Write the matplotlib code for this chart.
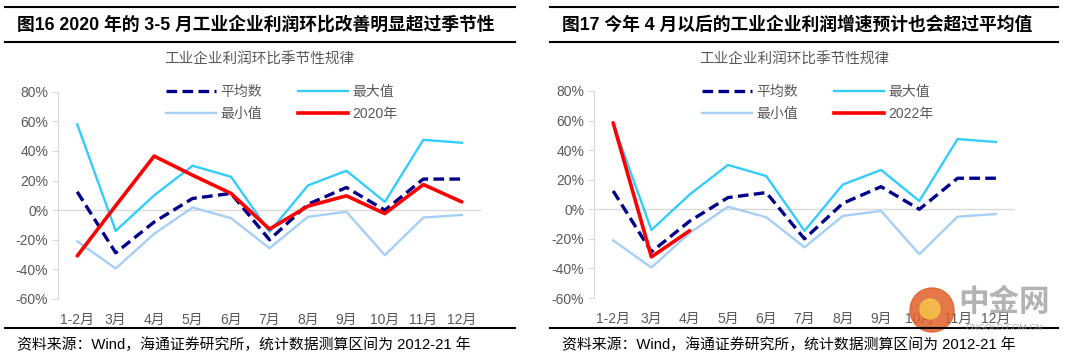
import matplotlib
matplotlib.use("Agg")
import matplotlib.pyplot as plt
from matplotlib.lines import Line2D
from matplotlib.patches import Ellipse

plt.rcParams['font.family'] = ['Liberation Sans', 'Noto Sans CJK SC', 'DejaVu Sans']

months = ['1-2月', '3月', '4月', '5月', '6月', '7月', '8月', '9月', '10月', '11月', '12月']
avg_vals = [12.4, -28.8, -8, 7.9, 11.3, -20, 4, 15.3, 0, 21, 21]
max_vals = [58, -14, 10, 30, 22.5, -14.6, 16.7, 26.6, 5.6, 47.5, 45.5]
min_vals = [-21, -39.4, -16, 1.8, -5.4, -25.7, -4.5, -1.1, -30.4, -5, -3.2]
y2020_vals = [-30.9, 3, 36.5, 23.6, 11.3, -12.8, 2.7, 9.7, -2.3, 17.3, 5.6]
y2022_vals = [58.5, -32.2, -14.5]
yticks = [-60, -40, -20, 0, 20, 40, 60, 80]

titles = ['图16 2020 年的 3-5 月工业企业利润环比改善明显超过季节性',
          '图17 今年 4 月以后的工业企业利润增速预计也会超过平均值']
subtitle = '工业企业利润环比季节性规律'
source = '资料来源：Wind，海通证券研究所，统计数据测算区间为 2012-21 年'

W, H = 1080, 360
fig = plt.figure(figsize=(10.8, 3.6), dpi=100)

C_AVG = '#00008B'
C_MAX = '#33CCFF'
C_MIN = '#A6CFF7'
C_RED = '#FF0000'
GRAY = '#595959'

def fx(px):
    return px / W

def fy(py):
    return 1 - py / H

panels = [
    dict(ax=(58, 481, 91.7, 299), x0=5, x1=515, tx=17, red=y2020_vals, redlabel='2020年', leg=159),
    dict(ax=(594, 1015, 91, 298), x0=550, x1=1058, tx=562, red=y2022_vals, redlabel='2022年', leg=695),
]

for i, p in enumerate(panels):
    l, r, t, b = p['ax']
    ax = fig.add_axes([fx(l), fy(b), fx(r - l), (b - t) / H])
    x = list(range(len(months)))
    ax.plot(x, min_vals, color=C_MIN, lw=1.7, zorder=2)
    ax.plot(x, max_vals, color=C_MAX, lw=1.7, zorder=3)
    ax.plot(x, avg_vals, color=C_AVG, lw=2.4, dashes=(3.2, 1.6), zorder=4)
    ax.plot(list(range(len(p['red']))), p['red'], color=C_RED, lw=2.6, zorder=5,
            solid_capstyle='round')
    ax.axhline(0, color='#D9D9D9', lw=1, zorder=1)
    ax.set_xlim(-0.5, 10.5)
    ax.set_ylim(-60, 80)
    ax.set_yticks(yticks)
    ax.set_yticklabels([f'{v}%' for v in yticks])
    ax.set_xticks(x)
    ax.set_xticklabels(months)
    for s in ['top', 'right', 'bottom']:
        ax.spines[s].set_visible(False)
    ax.spines['left'].set_color('#D9D9D9')
    ax.tick_params(axis='y', colors='#D9D9D9', labelcolor=GRAY, labelsize=10, length=4, pad=3)
    ax.tick_params(axis='x', length=0, labelcolor=GRAY, labelsize=10, pad=10)
    ax.patch.set_alpha(0)

    # legend
    handles = [Line2D([], [], color=C_AVG, lw=2.4, dashes=(3.2, 1.6)),
               Line2D([], [], color=C_MIN, lw=1.7),
               Line2D([], [], color=C_MAX, lw=1.7),
               Line2D([], [], color=C_RED, lw=2.6)]
    labels = ['平均数', '最小值', '最大值', p['redlabel']]
    leg = fig.legend(handles, labels, ncol=2, loc='upper left',
                     bbox_to_anchor=(fx(p['leg']), fy(78)), frameon=False,
                     handlelength=3.6, handletextpad=0.3, columnspacing=2.6,
                     labelspacing=0.55, borderpad=0, fontsize=10)
    for txt in leg.get_texts():
        txt.set_color(GRAY)

    # title bar
    fig.add_artist(Line2D([fx(p['x0']), fx(p['x1'])], [fy(7), fy(7)], color='black', lw=1.5))
    fig.add_artist(Line2D([fx(p['x0']), fx(p['x1'])], [fy(42), fy(42)], color='black', lw=1.5))
    fig.text(fx(p['tx']), fy(25), titles[i], fontsize=12.8, fontweight='bold',
             ha='left', va='center', color='black')
    cx = (l + r) / 2 - 10
    fig.text(fx(cx), fy(60), subtitle, fontsize=10.5, color=GRAY, ha='center', va='center')
    # bottom
    fig.add_artist(Line2D([fx(p['x0']), fx(p['x1'])], [fy(328), fy(328)], color='black', lw=1.5))
    fig.text(fx(p['tx']), fy(345), source, fontsize=10.7, ha='left', va='center', color='black')

# watermark
fig.add_artist(Ellipse((fx(932), fy(310)), 44 / W, 44 / H, transform=fig.transFigure,
                       color='#E0602A', alpha=0.85))
fig.add_artist(Ellipse((fx(930), fy(309)), 20 / W, 20 / H, transform=fig.transFigure,
                       color='#F6C04A', alpha=0.9))
fig.text(fx(1004), fy(303), '中金网', fontsize=22, fontweight='bold', color='#A0A0A0',
         alpha=0.8, ha='center', va='center')
fig.text(fx(1004), fy(328), 'CNGOLD.COM.CN', fontsize=6.5, color='#A0A0A0',
         alpha=0.8, ha='center', va='center')

fig.savefig('out.png', dpi=100)
